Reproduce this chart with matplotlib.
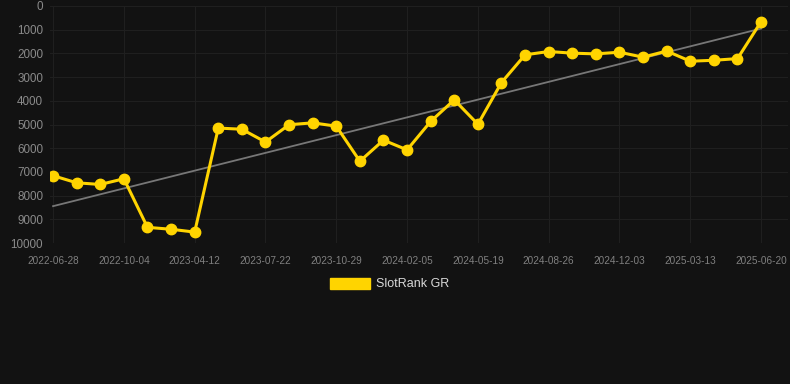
import numpy as np
import matplotlib.pyplot as plt
from matplotlib.patches import Patch

plt.rcParams['font.family'] = ['Liberation Sans', 'DejaVu Sans']

BG = '#121212'
YELLOW = '#FFD400'

# rank per sample (31 evenly spaced samples), labels on every third one
ranks = [7160, 7460, 7530, 7290, 9340, 9420, 9540, 5150, 5200, 5740,
         5010, 4930, 5070, 6550, 5660, 6070, 4870, 3960, 4990, 3230,
         2060, 1920, 1990, 2020, 1950, 2160, 1900, 2330, 2290, 2220, 660]
tick_labels = ['2022-06-28', '2022-10-04', '2023-04-12', '2023-07-22', '2023-10-29',
               '2024-02-05', '2024-05-19', '2024-08-26', '2024-12-03', '2025-03-13',
               '2025-06-20']
y_ticks = [0, 1000, 2000, 3000, 4000, 5000, 6000, 7000, 8000, 9000, 10000]

x = np.arange(len(ranks))
coef = np.polyfit(x, ranks, 1)
trend = np.polyval(coef, x)

fig = plt.figure(figsize=(7.9, 3.84), dpi=100, facecolor=BG)
ax = fig.add_axes([50 / 790, 141 / 384, 738 / 790, 237 / 384], facecolor=BG)

ax.plot(x, trend, color='#777777', linewidth=1.3, zorder=2)
ax.plot(x, ranks, color=YELLOW, linewidth=2.2, marker='o', markersize=7.5, zorder=3)

ax.set_ylim(10000, 0)
ax.set_xlim(-0.13, 31.14)
ax.set_yticks(y_ticks)
ax.set_yticklabels([str(v) for v in y_ticks])
ax.set_xticks(x[::3])
ax.set_xticklabels(tick_labels)

ax.grid(True, color='#1f1f1f', linewidth=0.8)
for s in ax.spines.values():
    s.set_visible(False)
ax.tick_params(axis='y', colors='#8a8a8a', labelsize=8.4, length=0, pad=5)
ax.tick_params(axis='x', colors='#808080', labelsize=7.2, length=0, pad=9)

fig.legend(handles=[Patch(facecolor=YELLOW, edgecolor=YELLOW, label='SlotRank GR')],
           loc='center', bbox_to_anchor=(390 / 790, 1 - 284 / 384),
           frameon=False, fontsize=9, labelcolor='#d8d8d8',
           handlelength=3.2, handleheight=1.0, handletextpad=0.5)

fig.savefig('out.png', dpi=100, facecolor=BG)
